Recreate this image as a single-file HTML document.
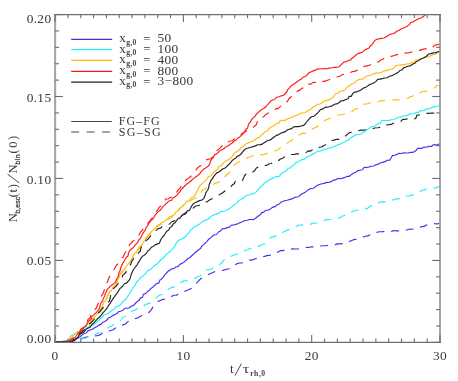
<!DOCTYPE html>
<html><head><meta charset="utf-8"><style>
html,body{margin:0;padding:0;background:#fff}
svg{display:block}
text{fill:#383838}
.num{font-family:"Liberation Serif",serif;font-size:12.4px;letter-spacing:0.3px}
.ser{font-family:"Liberation Serif",serif}
.sub{font-family:"Liberation Sans",sans-serif;font-size:7.2px;letter-spacing:0.3px;stroke:#383838;stroke-width:0.25px}
.subs{font-family:"Liberation Serif",serif;font-size:7.6px;letter-spacing:0.35px;font-weight:bold;fill:#444}
</style></head><body>
<svg width="458" height="381" viewBox="0 0 458 381">
<rect width="458" height="381" fill="#fff"/>
<clipPath id="c"><rect x="55.1" y="14.6" width="384.9" height="327.8"/></clipPath>
<g clip-path="url(#c)">
<polyline points="55.0,342.0 57.4,341.9 59.8,341.8 62.2,341.8 64.6,341.7 67.0,341.6 69.4,341.5 71.8,340.9 73.7,339.9 75.9,338.6 78.1,338.1 80.0,336.7 82.0,335.1 84.3,333.2 86.3,333.0 87.9,330.9 90.2,330.0 92.3,329.2 94.3,328.0 96.6,326.7 99.0,325.1 100.9,324.4 102.5,322.6 104.7,321.5 106.6,320.3 108.1,318.3 110.7,317.0 112.5,315.6 114.1,314.9 116.9,313.6 118.6,311.6 120.6,311.3 122.8,310.3 125.1,308.2 127.4,308.3 129.5,307.7 131.2,306.2 133.6,305.4 135.3,303.5 137.2,301.6 138.5,300.8 140.7,297.9 142.5,297.4 143.4,294.3 145.5,293.6 147.7,291.3 149.2,290.5 150.9,288.4 152.7,287.3 154.6,285.5 156.9,283.4 158.7,283.2 159.9,280.1 161.1,279.4 163.3,277.1 164.9,274.7 166.0,273.6 167.7,271.6 169.8,270.3 171.6,268.9 173.8,268.6 176.2,266.7 178.0,266.6 180.2,264.2 182.0,263.2 183.7,262.4 185.5,260.8 187.9,258.5 189.8,257.8 191.5,256.0 193.4,254.3 195.1,252.5 196.8,251.2 198.7,249.7 200.4,248.6 202.0,245.9 204.1,244.4 205.6,242.6 206.6,241.9 209.0,238.9 210.7,237.9 212.6,235.9 214.3,234.8 216.5,234.5 218.5,232.0 220.5,230.9 222.5,228.6 224.4,228.7 227.1,227.6 229.5,227.1 231.3,225.2 233.8,224.9 235.2,224.6 237.7,223.7 239.9,222.7 242.8,221.5 244.8,220.5 247.1,220.3 249.8,219.5 251.7,219.5 253.8,219.6 256.1,217.7 258.3,216.0 260.3,214.7 261.7,212.6 263.8,212.1 265.8,210.2 268.5,210.1 270.2,209.1 272.3,207.4 275.1,206.6 277.2,204.7 278.8,204.3 281.3,201.9 282.8,201.5 285.2,200.5 287.1,200.2 290.0,199.4 291.9,198.9 294.5,197.4 296.6,197.0 298.8,196.7 301.0,194.4 303.2,193.2 304.7,192.6 306.9,190.9 308.9,189.4 311.1,188.5 313.5,188.3 315.5,186.6 317.3,185.2 320.1,184.3 322.0,183.8 324.3,183.4 326.6,182.4 328.8,182.5 331.4,181.4 333.1,180.4 336.0,179.6 337.9,178.5 340.6,178.7 342.9,178.1 344.7,177.6 347.2,176.3 349.4,176.3 351.5,174.4 353.8,173.1 356.0,172.1 358.2,170.6 359.8,170.2 362.3,169.7 364.3,167.4 366.6,167.5 369.2,166.9 371.4,166.3 373.8,166.0 375.4,164.9 378.5,164.1 380.2,162.7 382.1,162.6 385.4,161.4 387.3,160.2 389.3,160.3 391.1,158.1 392.4,155.6 394.7,155.2 396.8,154.4 399.1,153.3 401.5,153.5 403.7,152.9 406.6,153.0 408.0,153.0 411.1,152.4 413.4,152.2 415.7,150.8 417.5,148.3 419.2,148.4 422.2,148.4 424.0,147.0 426.5,147.2 428.6,146.4 431.4,146.5 433.1,144.8 436.0,144.9 438.2,144.7 439.7,143.2" fill="none" stroke="#4a2cf0" stroke-width="1.15" stroke-linejoin="round"/>
<polyline points="55.0,342.0 57.4,341.9 59.8,341.9 62.2,341.8 64.6,341.7 67.0,341.6 69.4,341.6 71.9,341.4 73.7,339.8 76.1,339.4 78.1,338.3 80.6,338.4 83.0,338.3 85.4,337.3 87.4,336.8 89.9,336.0 92.3,336.0 94.7,335.9 96.8,335.7 99.6,335.1 101.4,334.0 103.4,333.0 105.9,331.3 108.4,331.3 110.0,330.8 113.1,329.8 114.4,328.7 116.8,327.2 118.8,326.6 121.2,326.1 123.4,324.6 125.5,324.0 127.0,322.4 129.4,320.6 131.7,319.6 134.0,319.2 136.6,318.1 138.1,317.7 140.9,316.1 142.6,314.8 144.6,314.3 146.8,312.5 149.3,312.2 150.6,310.7 152.0,308.7 153.1,306.4 154.8,304.4 156.4,302.6 158.1,301.6 160.2,300.5 163.0,299.4 165.1,299.0 166.9,297.7 169.6,297.7 171.5,296.5 173.6,295.3 176.6,295.2 178.7,293.5 180.5,293.6 182.9,291.7 184.9,291.2 187.4,290.3 189.5,289.2 191.6,288.2 193.1,285.5 194.7,284.0 196.8,282.8 198.2,281.4 200.3,279.1 202.1,278.0 204.0,276.8 206.4,276.0 208.3,274.6 210.0,273.7 212.9,272.5 215.2,271.4 217.1,271.2 219.7,270.7 222.3,270.5 224.3,269.9 226.8,269.2 229.1,268.7 230.9,267.2 233.2,266.3 235.4,264.7 237.4,263.6 239.5,263.0 241.8,263.0 244.1,261.7 245.9,261.2 248.9,260.0 251.7,260.1 253.8,259.2 256.0,258.6 258.0,257.8 260.0,257.1 262.4,256.9 265.5,256.1 267.4,255.4 269.7,255.5 272.1,254.2 274.5,254.0 276.8,252.2 278.4,252.0 280.6,250.6 282.8,250.6 285.3,249.9 287.9,249.0 290.1,249.2 292.8,248.9 295.0,249.0 297.6,249.0 300.3,248.5 302.3,248.5 304.5,248.0 307.3,247.3 309.0,247.5 311.3,246.8 313.9,246.9 316.3,246.4 318.5,246.1 320.8,246.0 323.6,245.7 325.9,245.8 328.4,245.2 331.1,245.3 333.1,245.3 335.3,244.6 337.7,243.9 340.3,243.9 343.0,243.6 344.9,242.6 346.7,242.7 349.5,241.2 351.8,240.6 354.0,239.6 356.4,239.2 358.3,237.9 360.7,238.0 363.3,237.0 365.6,236.2 367.7,235.9 369.8,234.9 372.1,233.2 374.2,233.1 376.8,232.4 379.2,231.7 381.3,231.8 383.8,231.6 386.3,231.8 388.4,231.8 391.0,231.5 393.7,230.6 395.3,230.8 398.1,230.8 400.7,230.8 402.9,230.4 405.2,230.5 407.3,229.7 410.1,229.0 412.5,229.2 415.3,228.7 416.9,227.9 419.5,227.9 421.4,226.6 424.1,226.4 426.3,225.1 428.7,224.7 430.9,224.2 433.5,223.6 435.6,223.8 437.9,223.8 440.0,223.0" fill="none" stroke="#4a2cf0" stroke-width="1.15" stroke-linejoin="round" stroke-dasharray="8.0 6.8" stroke-dashoffset="3"/>
<polyline points="55.0,342.0 57.4,341.8 59.8,341.5 62.2,341.3 64.5,341.0 66.9,340.8 69.3,340.5 69.9,338.3 70.5,336.2 71.8,335.5 74.3,334.3 76.5,332.9 78.7,332.1 80.2,330.9 82.9,330.2 85.1,328.6 86.8,327.5 88.7,326.8 91.3,325.4 93.5,325.1 95.1,323.3 97.5,321.7 99.5,319.7 100.7,318.2 102.8,317.0 103.8,314.8 106.5,314.2 109.0,312.9 110.4,311.4 112.4,310.3 114.0,309.3 115.4,307.0 118.1,306.1 120.6,304.7 121.9,302.8 123.6,301.0 125.6,299.3 126.8,297.6 128.3,295.5 129.4,293.7 130.6,291.8 132.3,289.0 133.0,287.6 134.6,285.9 136.2,282.7 137.3,281.5 138.8,279.8 140.8,277.4 142.3,276.4 144.1,274.9 145.8,273.4 147.1,271.5 149.5,269.7 151.1,268.9 153.4,266.7 155.1,265.1 156.7,264.4 158.3,262.6 160.2,260.5 162.2,258.8 163.5,258.1 165.6,255.2 167.3,253.4 168.9,252.4 170.4,250.9 172.2,249.4 174.1,247.1 175.5,245.1 176.2,243.1 177.8,241.2 179.6,239.8 181.7,239.3 184.4,237.2 185.2,237.2 187.3,234.4 188.9,233.0 190.0,230.6 192.1,229.0 193.6,227.2 195.4,226.4 197.8,225.0 199.7,223.9 201.8,222.1 203.8,221.1 206.2,219.9 208.5,219.2 210.0,217.1 212.7,215.2 214.2,214.7 216.1,214.1 218.6,213.2 220.9,211.4 222.6,211.5 225.3,210.7 227.6,209.6 229.5,208.7 231.4,207.1 233.2,205.7 235.8,203.9 237.2,202.6 238.9,200.4 241.1,199.4 243.0,198.2 245.2,196.7 246.8,195.2 249.2,195.0 251.4,193.9 254.0,193.2 255.6,192.4 257.5,190.7 259.2,188.2 260.5,186.7 262.5,185.4 264.1,183.3 266.6,181.8 268.2,180.5 270.1,179.1 271.4,179.2 274.4,177.2 276.3,176.5 278.8,176.6 281.1,174.0 283.1,172.5 284.7,171.5 286.6,170.8 288.1,168.3 290.6,167.9 292.6,165.6 294.4,164.8 296.1,162.2 298.3,162.1 299.6,160.8 302.4,159.4 304.2,159.4 306.6,157.1 308.7,156.5 310.7,155.6 312.9,154.1 315.0,153.0 317.6,151.2 319.5,151.2 322.1,150.4 324.1,149.2 326.6,149.1 328.2,148.0 331.1,147.9 333.3,146.7 335.5,146.1 337.7,144.9 340.0,144.1 342.5,143.0 344.7,141.9 346.5,140.5 348.4,140.1 350.4,137.9 352.0,137.1 354.5,135.6 356.7,134.7 359.2,134.5 361.4,133.8 363.4,132.3 365.3,131.0 367.0,129.7 369.4,128.3 371.5,126.8 373.6,126.4 375.1,126.0 377.5,123.9 380.6,123.1 382.0,120.3 384.1,120.5 386.0,120.5 389.0,120.4 391.1,119.7 393.5,119.5 395.9,118.8 398.3,117.2 400.7,117.3 402.8,116.0 405.0,115.7 407.8,115.4 409.2,113.9 412.4,114.0 414.5,113.5 416.5,112.3 418.7,112.3 421.0,110.5 424.0,110.7 425.6,109.4 427.8,108.9 430.2,108.5 432.9,106.9 435.0,106.6 437.2,106.3 439.4,105.9 439.7,105.5" fill="none" stroke="#22eefc" stroke-width="1.15" stroke-linejoin="round"/>
<polyline points="55.0,342.0 57.4,341.9 59.8,341.9 62.2,341.8 64.6,341.8 67.0,341.7 69.4,341.6 71.2,341.1 74.0,341.2 76.5,341.2 78.9,340.9 81.0,339.7 83.3,338.2 85.7,338.4 87.6,337.0 89.7,336.2 92.2,335.5 94.7,334.6 96.6,333.7 98.8,333.0 101.6,332.8 103.3,331.0 105.5,330.2 106.9,328.9 109.4,326.8 111.3,326.4 113.4,324.7 115.6,324.1 117.6,323.7 119.9,321.3 121.0,320.0 122.7,317.5 124.6,317.0 126.4,315.3 128.2,313.6 130.8,312.5 132.6,310.6 134.6,310.2 137.0,308.7 139.0,308.5 140.6,306.7 143.2,306.5 145.1,304.8 147.4,303.9 150.0,303.1 152.1,302.0 154.2,300.0 155.1,298.5 157.1,297.1 159.2,295.4 161.1,294.8 163.9,293.6 165.3,292.4 167.1,290.5 169.1,288.8 170.5,287.9 173.1,287.1 175.5,286.6 178.2,285.2 179.5,283.5 181.2,282.1 184.1,280.9 185.8,280.8 188.7,279.7 190.7,279.0 193.3,278.5 195.4,278.2 197.4,276.5 199.9,276.2 201.8,274.2 203.6,273.0 205.1,271.2 207.0,269.8 209.7,269.7 212.3,268.2 213.8,268.3 216.5,267.8 217.9,266.3 220.2,264.2 221.9,262.5 223.2,261.1 224.9,258.5 227.2,257.7 229.6,257.1 231.6,256.0 234.2,254.9 236.2,254.5 238.8,253.1 240.8,252.0 242.7,251.7 244.7,250.5 247.3,250.0 249.8,248.4 252.3,248.3 254.2,247.5 256.3,247.0 258.5,246.1 260.9,245.4 262.4,244.3 265.3,243.8 267.2,241.3 268.9,240.3 270.5,237.7 272.6,236.9 274.5,236.4 276.4,235.9 279.1,235.7 281.2,234.6 282.6,232.5 284.9,231.2 287.4,230.1 289.3,229.5 291.5,228.4 294.0,227.5 295.8,226.9 298.6,225.1 300.9,225.2 302.9,224.6 305.0,224.7 307.9,224.4 310.5,224.5 312.1,223.1 315.0,223.3 316.9,223.0 319.8,223.0 321.7,222.1 324.2,220.9 325.7,219.5 328.6,219.6 331.1,219.2 333.3,218.6 335.7,218.1 337.8,218.1 340.5,217.5 342.5,216.0 344.5,215.5 346.5,213.8 349.3,213.2 351.3,212.3 353.5,211.2 356.1,210.2 357.9,210.3 360.4,209.9 363.2,210.0 365.4,208.4 367.4,208.6 369.5,206.7 371.6,205.6 372.9,204.2 375.0,203.2 377.5,203.1 379.9,202.1 382.8,201.8 385.1,201.9 386.9,201.6 389.5,200.9 392.1,200.1 394.1,199.6 396.1,198.8 399.2,198.8 400.9,197.8 403.5,195.9 405.8,196.0 408.5,196.0 410.3,195.6 412.9,194.9 414.9,193.0 417.2,192.3 419.2,192.3 422.0,190.2 424.2,190.1 426.3,188.7 428.9,188.8 430.8,188.2 433.4,187.8 435.6,188.0 438.1,186.9 440.0,187.0" fill="none" stroke="#22eefc" stroke-width="1.15" stroke-linejoin="round" stroke-dasharray="8.0 6.8" stroke-dashoffset="3"/>
<polyline points="55.0,342.0 57.4,341.8 59.8,341.7 62.2,341.5 64.6,341.3 67.0,341.1 68.9,340.0 70.7,338.2 72.5,336.8 73.6,335.3 75.7,333.2 77.5,331.6 79.8,331.3 81.3,329.9 83.4,327.4 85.7,326.4 87.0,324.2 88.0,323.2 90.2,320.9 91.8,319.3 93.3,318.0 95.1,316.3 97.1,314.2 98.7,312.5 99.9,311.4 101.2,308.5 102.3,306.3 103.3,303.8 104.0,301.9 105.1,300.8 106.5,298.6 107.2,296.3 108.9,294.1 109.8,291.5 111.4,290.7 112.7,287.7 114.4,286.1 116.0,284.0 116.7,281.6 117.3,280.2 119.0,277.8 119.5,274.7 120.5,272.8 121.9,271.5 124.3,269.7 125.5,267.1 127.4,265.1 128.5,263.7 129.9,262.0 131.0,259.8 132.4,257.7 133.7,255.4 134.9,253.1 136.3,252.7 137.8,249.4 138.8,247.6 140.8,245.8 142.1,244.4 143.2,241.9 144.8,240.8 145.6,237.8 148.1,235.7 148.9,233.9 150.6,232.8 152.0,230.9 154.5,228.9 156.0,227.3 157.5,225.4 159.7,224.7 161.5,222.6 163.2,222.0 165.2,220.7 167.4,218.9 169.4,216.8 171.1,216.2 173.6,215.1 175.4,213.4 176.3,211.2 178.3,210.6 179.6,208.6 181.7,206.9 183.4,205.2 185.0,203.8 186.7,201.4 188.8,200.9 190.6,198.5 192.5,197.3 194.6,196.0 195.6,193.8 196.8,191.9 198.1,189.7 198.5,187.7 200.2,185.4 201.7,184.2 203.8,181.9 205.8,180.4 207.5,178.6 208.5,176.5 210.7,175.9 212.4,174.0 213.7,172.3 215.6,170.8 217.5,169.1 218.9,166.2 221.0,165.9 222.9,163.7 224.5,162.1 226.4,160.7 228.2,159.7 230.4,158.3 232.1,156.6 233.6,154.4 235.2,152.7 237.1,151.2 239.3,150.4 240.6,148.1 242.9,146.9 244.6,145.0 247.0,143.1 249.4,142.6 250.9,141.5 253.2,141.3 255.1,139.6 257.6,137.9 259.6,137.2 261.2,135.3 263.3,133.6 265.0,131.8 267.1,131.3 268.8,128.9 270.3,127.7 272.8,126.0 274.3,125.9 276.3,123.5 278.6,123.5 279.9,120.9 283.0,120.3 285.0,120.4 287.2,119.1 289.9,118.0 292.1,117.3 293.7,115.9 295.9,115.7 298.3,114.8 300.6,113.1 302.2,113.1 305.1,112.7 306.8,111.4 309.3,109.7 311.0,109.2 312.9,107.0 315.5,106.0 317.3,104.2 320.0,104.1 321.7,103.0 323.7,101.2 326.1,100.4 328.8,99.9 330.3,99.0 332.6,98.0 334.0,95.9 335.8,93.5 337.8,93.3 340.2,91.3 342.4,90.9 344.8,90.0 346.6,87.9 348.4,86.3 350.1,85.3 351.9,84.1 354.1,82.9 355.9,81.4 358.0,79.9 360.3,79.1 362.7,79.2 364.5,77.6 366.9,76.1 368.9,75.5 371.3,75.2 373.1,74.1 376.0,73.0 378.5,72.9 380.8,72.8 382.9,71.6 385.4,70.4 387.4,70.6 389.5,69.2 392.3,69.2 394.3,67.4 395.6,65.6 398.1,65.2 400.7,64.8 402.9,64.9 405.5,64.2 408.0,63.7 409.8,63.8 412.4,62.6 414.3,61.9 416.3,60.0 419.1,60.0 420.7,59.0 423.4,58.0 425.6,56.8 428.2,56.9 430.5,55.8 432.7,54.8 435.1,54.3 437.0,53.2 439.0,51.9 439.7,51.4" fill="none" stroke="#ffbb10" stroke-width="1.15" stroke-linejoin="round"/>
<polyline points="55.0,342.6 57.4,342.4 59.8,342.3 62.2,342.1 64.6,341.9 67.0,341.7 68.9,340.6 70.6,340.0 72.7,337.4 73.3,336.1 75.5,334.0 77.7,333.3 79.2,331.7 81.7,329.9 83.1,328.8 84.9,326.7 86.8,325.2 88.1,323.4 90.5,322.3 92.1,320.1 93.7,318.6 95.0,316.9 97.2,315.3 99.1,313.0 100.4,312.2 101.2,310.0 101.9,306.9 103.2,304.6 104.4,302.7 105.8,299.8 106.3,299.4 107.5,296.6 108.4,294.3 109.6,292.1 111.3,290.4 112.6,288.6 114.3,286.6 115.3,284.8 116.8,282.5 117.4,280.4 118.5,277.8 120.1,276.2 120.8,273.8 122.4,272.1 123.8,269.7 125.7,268.3 126.9,266.1 128.2,264.8 129.9,262.6 130.8,260.5 132.3,258.5 133.5,256.6 134.6,254.9 136.3,252.4 137.6,250.9 139.0,248.9 141.1,247.0 142.2,244.6 143.7,242.5 144.8,241.4 146.2,238.4 147.7,237.3 148.5,235.3 151.0,233.0 152.6,231.1 154.2,230.7 155.7,228.7 157.6,226.2 159.4,225.1 161.3,224.0 163.5,222.5 165.9,221.1 167.5,220.1 169.3,218.5 171.5,217.8 173.3,215.4 175.0,214.1 176.4,212.8 178.2,210.7 179.9,208.3 181.7,207.1 183.4,205.3 184.9,203.2 187.4,202.9 189.1,201.4 190.8,200.6 193.6,198.7 195.3,198.2 197.9,195.9 198.9,194.9 200.9,193.0 202.5,190.1 203.3,189.8 205.4,188.5 208.1,187.5 210.0,186.9 212.6,185.0 214.3,183.6 216.7,182.9 219.1,181.9 221.2,181.7 222.6,180.3 224.1,178.3 225.3,176.2 227.4,174.3 229.2,172.5 231.1,171.2 232.3,168.4 233.4,166.9 234.6,164.5 236.2,163.7 238.7,162.1 240.8,161.7 242.6,160.7 245.1,159.1 247.0,157.9 249.3,157.3 251.7,156.2 253.9,155.6 256.3,155.8 258.2,155.7 260.8,154.6 263.7,154.8 265.7,153.7 267.7,153.2 270.4,152.7 272.7,152.0 274.9,150.7 276.9,150.6 278.8,149.1 280.8,147.1 283.6,145.9 285.2,144.6 286.8,143.4 288.5,142.2 290.8,141.1 293.0,138.8 294.8,138.3 296.5,137.2 298.7,135.3 301.0,133.9 302.7,133.2 305.1,133.4 307.3,132.8 309.3,131.3 311.0,129.9 313.2,128.5 315.5,127.4 317.4,126.6 319.8,124.3 321.5,123.4 322.9,122.4 325.0,120.3 327.5,119.3 329.5,118.8 332.1,117.6 334.3,116.9 335.9,116.5 338.6,115.0 341.1,114.8 343.5,114.3 345.4,113.1 347.7,112.8 349.6,112.1 352.3,111.2 354.7,109.1 356.7,109.0 358.7,107.4 360.8,107.4 362.9,104.3 365.2,104.2 367.3,103.8 370.1,102.9 372.7,102.0 374.3,102.1 377.1,102.2 379.5,101.3 381.4,100.5 384.0,100.7 386.5,99.9 388.8,100.1 391.1,99.7 393.8,99.8 395.9,99.8 398.4,99.8 400.5,99.8 402.5,99.8 405.3,99.1 407.9,98.3 410.0,96.8 412.3,96.4 414.1,94.9 417.2,93.5 418.7,93.4 421.3,91.9 423.6,91.5 425.6,91.4 427.6,90.7 430.0,89.5 432.4,88.2 435.0,87.8 436.6,85.5 438.9,85.5 439.7,85.3" fill="none" stroke="#ffbb10" stroke-width="1.15" stroke-linejoin="round" stroke-dasharray="8.0 6.8" stroke-dashoffset="3"/>
<polyline points="55.0,342.0 57.4,341.8 59.8,341.7 62.2,341.5 64.6,341.3 67.0,341.1 69.4,340.8 71.5,340.0 73.2,338.5 75.4,337.3 77.0,334.7 78.4,333.2 80.4,332.1 81.8,330.3 83.2,328.2 85.0,326.5 86.6,325.2 87.6,322.2 89.3,320.3 90.9,319.7 92.0,316.1 94.0,314.6 95.5,313.3 96.7,312.2 99.0,309.3 99.6,307.8 100.3,304.6 101.6,302.2 102.7,301.0 103.2,298.7 104.7,296.2 105.2,293.5 106.2,292.1 107.0,289.7 108.3,288.4 110.3,286.4 112.2,284.8 114.0,283.4 115.5,282.1 116.6,279.2 117.8,277.5 118.6,275.2 118.9,272.7 120.0,270.9 120.6,268.5 121.4,266.2 122.7,263.2 123.5,261.9 125.2,259.3 126.5,256.9 128.0,255.9 128.5,253.2 129.5,251.1 130.8,249.4 132.5,248.3 134.5,245.9 136.0,244.2 137.5,242.7 138.8,240.0 140.5,238.4 141.6,236.0 142.5,234.1 143.7,232.1 145.1,230.4 146.1,227.6 147.2,226.3 148.7,223.6 150.0,222.0 151.5,220.0 153.1,218.7 154.5,216.2 155.4,215.0 156.8,213.1 159.0,211.1 160.7,209.8 162.2,207.4 164.3,205.4 165.6,204.1 167.3,202.7 169.3,200.8 171.7,200.3 172.8,198.0 175.1,196.8 177.0,195.1 178.6,193.0 180.0,191.7 181.4,189.3 182.8,188.0 184.7,186.0 186.8,183.9 188.5,182.9 189.9,181.7 192.2,179.8 193.6,178.6 195.7,176.9 197.8,175.6 199.8,173.7 201.0,171.9 202.7,170.1 204.3,168.7 206.7,167.2 208.4,166.1 209.6,164.3 210.4,161.6 211.7,159.1 213.1,157.9 214.4,154.9 216.2,154.1 218.1,152.5 219.7,150.8 222.3,149.6 223.9,148.8 225.9,146.7 228.1,146.0 230.2,144.2 232.2,143.0 233.6,141.5 236.0,140.1 237.6,138.0 239.3,137.3 241.7,135.1 243.1,133.9 244.8,131.3 245.7,129.2 247.6,128.2 248.2,125.4 248.9,123.7 250.6,121.7 251.7,119.2 253.2,117.9 255.2,116.1 256.5,113.9 258.5,112.2 260.1,110.7 261.9,109.4 263.7,108.5 265.7,106.8 267.2,105.1 269.1,103.2 270.7,100.9 272.7,100.0 274.7,99.5 276.6,97.2 279.0,96.7 281.5,95.8 283.5,95.4 285.2,93.5 287.0,91.5 287.5,89.8 289.7,87.6 290.8,86.1 293.3,84.4 295.0,83.3 297.4,81.5 299.5,80.0 301.2,79.2 303.0,77.3 304.7,76.7 306.6,75.7 308.8,72.8 310.8,72.0 312.8,70.9 315.0,70.4 317.7,68.8 319.9,69.0 322.3,68.7 324.6,68.6 326.6,68.8 329.1,68.1 332.1,67.7 334.1,67.3 336.8,67.3 338.5,67.0 340.3,65.7 342.2,63.6 343.8,62.1 346.3,61.6 348.6,60.4 350.2,60.1 351.7,58.5 354.0,56.8 356.0,55.0 357.9,53.6 360.7,52.6 362.4,52.2 364.4,50.3 367.1,48.8 368.8,48.3 370.1,46.1 372.0,44.9 373.6,42.2 375.1,40.3 376.9,39.2 379.3,38.9 381.3,38.4 384.1,38.0 386.2,36.7 388.3,35.4 390.5,34.1 392.9,33.7 394.9,32.9 396.8,31.2 399.1,30.2 401.4,28.7 403.4,28.0 405.3,27.2 407.2,26.3 409.3,24.6 411.0,22.4 413.0,22.0 415.1,20.5 417.3,19.4 419.7,18.3 421.7,17.8 423.9,16.0 425.4,14.6" fill="none" stroke="#ff1818" stroke-width="1.15" stroke-linejoin="round"/>
<polyline points="55.0,342.0 57.4,341.9 59.8,341.7 62.2,341.6 64.6,341.5 67.0,341.4 69.2,340.6 71.0,339.5 72.9,338.6 74.6,336.8 76.3,335.5 78.5,333.4 80.1,330.8 80.9,329.1 83.0,327.9 83.8,325.6 85.6,323.7 87.0,321.6 88.2,319.0 90.1,318.4 90.8,315.5 92.4,313.8 93.1,311.8 94.7,309.6 96.2,308.0 97.3,305.5 98.4,303.0 99.2,300.8 100.0,299.2 100.9,296.5 102.4,294.7 103.6,292.3 104.4,289.4 105.2,288.0 106.5,286.1 106.7,283.3 107.8,281.0 108.4,279.2 109.2,277.2 110.5,274.9 112.2,272.7 113.0,270.5 114.6,268.8 115.9,266.1 117.3,264.4 118.6,263.3 120.1,260.8 121.8,257.8 123.1,257.3 124.0,254.8 125.3,252.7 126.2,250.5 127.1,247.5 128.7,246.7 129.9,244.0 131.2,243.2 133.2,241.0 135.7,240.0 136.4,238.5 137.9,236.7 139.6,233.8 140.5,232.3 142.2,230.3 143.8,228.2 145.5,227.1 147.6,224.3 148.4,222.6 149.9,221.0 151.2,218.9 152.5,218.0 153.9,214.7 155.1,212.8 156.6,211.2 158.2,209.1 159.2,207.3 161.0,205.9 162.5,204.2 164.3,202.1 165.5,199.1 168.3,198.7 170.4,197.4 172.1,197.1 173.5,195.2 175.4,193.2 177.1,191.6 178.5,189.6 180.4,187.8 181.5,185.4 183.0,183.9 183.8,182.0 185.8,180.1 187.3,179.1 189.8,177.2 191.6,175.7 192.6,174.1 194.2,172.1 196.3,169.7 197.4,168.1 199.1,166.5 201.1,165.4 202.8,163.8 204.7,161.3 206.2,159.9 208.6,159.2 210.6,158.8 212.4,156.8 213.5,154.2 215.1,152.6 216.6,150.9 218.3,149.4 220.0,148.1 222.0,145.8 223.7,144.0 225.4,142.6 227.5,142.1 229.6,141.3 232.1,140.7 233.6,139.6 236.4,137.8 238.3,135.9 240.3,135.5 242.3,133.3 243.8,132.5 245.9,131.2 248.0,130.0 250.3,129.2 252.4,128.2 254.3,126.3 255.9,125.2 257.1,122.8 257.5,120.5 259.4,118.7 261.3,117.6 263.6,116.9 265.4,114.8 267.3,113.8 270.0,111.8 271.9,111.7 274.0,110.7 276.3,108.4 278.2,108.6 280.6,106.2 282.3,106.3 284.3,104.3 286.1,102.5 287.7,100.9 288.7,99.0 291.3,96.7 292.4,95.4 294.2,94.0 295.6,92.5 297.4,91.1 300.2,89.9 302.2,88.0 304.5,88.1 306.0,86.0 307.8,84.2 310.8,84.1 312.8,82.6 314.6,82.4 316.4,82.3 319.5,81.2 322.2,81.4 324.2,81.4 326.8,80.5 328.9,79.8 331.1,78.9 333.9,77.7 335.2,77.2 337.9,76.7 340.6,75.8 342.3,74.8 344.7,73.7 347.0,73.2 349.4,73.4 352.0,71.6 354.0,71.5 356.3,70.6 358.7,69.7 360.8,68.9 362.6,67.2 365.1,66.1 367.0,65.9 370.0,65.0 371.3,64.4 374.0,63.0 376.2,62.3 378.4,62.0 380.7,60.0 382.7,59.3 384.4,58.0 386.9,56.9 388.6,56.2 391.3,56.4 394.1,55.5 396.7,54.6 398.9,54.8 401.2,54.7 403.4,54.3 405.4,52.9 408.4,53.0 410.5,52.2 412.8,51.8 414.7,51.7 417.4,51.0 419.6,50.4 421.8,49.6 425.0,48.7 426.7,48.9 428.8,48.4 430.9,46.6 433.5,46.7 434.3,45.2 436.7,44.9 439.2,44.2 440.0,44.5" fill="none" stroke="#ff1818" stroke-width="1.15" stroke-linejoin="round" stroke-dasharray="8.0 6.8" stroke-dashoffset="3"/>
<polyline points="55.0,342.0 57.4,342.0 59.8,341.9 62.2,341.9 64.6,341.9 67.0,341.8 69.4,341.7 71.6,341.7 73.7,340.7 75.9,339.4 77.8,337.5 79.0,335.3 80.6,333.8 82.5,332.7 84.2,331.7 86.2,329.2 87.9,328.3 90.3,327.0 91.8,324.5 92.9,323.8 95.0,321.7 97.0,319.3 98.1,318.2 100.0,316.5 101.6,314.8 102.8,312.9 104.8,310.8 107.0,308.2 107.6,307.2 109.1,304.6 110.2,303.3 111.4,301.1 112.9,298.9 114.3,296.9 115.5,295.1 117.0,293.3 118.2,291.4 119.4,289.2 121.3,287.3 122.9,286.0 124.4,283.8 126.9,282.9 128.1,281.4 129.8,279.3 130.6,276.7 131.1,274.7 132.3,272.0 132.9,270.5 134.6,268.0 135.7,266.6 137.0,265.0 138.7,261.9 139.8,260.3 140.8,258.4 142.6,256.1 144.0,255.4 146.0,253.7 147.8,251.0 149.2,250.0 151.3,247.3 153.3,246.4 155.2,244.9 157.0,244.1 159.5,243.2 160.2,240.9 161.1,239.0 162.6,237.0 164.0,235.5 165.5,233.2 166.7,231.2 168.7,230.0 169.9,227.5 171.9,226.4 173.5,223.5 174.9,223.0 176.5,220.6 178.4,218.4 179.9,218.2 182.0,215.5 183.9,214.0 185.4,213.1 187.6,210.9 189.6,210.2 190.4,208.3 191.7,205.9 193.4,203.9 195.4,202.5 197.7,201.4 199.7,200.6 201.9,200.0 203.5,198.9 204.7,196.6 205.6,193.6 206.5,191.5 208.0,189.5 208.8,187.2 209.0,185.3 210.3,182.0 211.2,179.9 212.2,179.0 213.6,176.6 215.0,174.9 216.7,172.9 218.6,172.3 220.6,170.7 222.5,169.0 225.1,168.0 226.6,166.6 228.3,165.0 230.2,163.2 231.2,161.6 233.7,159.2 235.9,158.1 237.0,156.5 239.1,155.6 240.9,154.2 242.7,151.8 244.3,150.0 246.2,148.5 248.2,148.0 250.5,147.2 252.3,146.9 255.3,145.9 257.8,144.8 260.2,144.6 262.3,144.1 264.1,142.7 266.2,141.4 268.3,140.3 270.0,140.2 272.4,138.2 274.8,136.5 276.4,135.4 278.8,134.6 281.2,133.0 283.2,132.4 285.3,131.6 287.6,129.8 289.2,129.3 291.6,128.6 293.6,126.9 296.8,126.6 298.6,126.6 301.2,126.0 303.6,125.4 305.2,124.0 306.6,122.0 308.2,120.1 309.9,118.0 311.7,116.8 313.8,116.2 315.8,114.6 317.7,113.0 319.4,110.8 321.0,109.4 323.5,108.6 325.7,107.1 327.4,107.3 330.1,106.5 332.2,105.9 334.4,104.2 336.7,103.9 338.9,102.7 340.8,101.0 343.3,100.6 345.4,99.7 348.0,98.7 349.3,96.3 351.2,96.4 353.0,93.2 354.8,92.1 357.5,91.6 359.4,90.7 361.4,89.8 363.5,88.0 365.6,87.4 367.7,85.9 369.7,84.6 371.9,83.8 374.3,82.6 376.0,81.4 377.7,79.4 380.0,79.1 382.2,78.6 384.8,78.0 387.1,77.7 389.5,76.3 392.1,75.6 393.8,74.7 396.1,73.6 398.1,72.3 400.4,70.2 401.7,70.0 403.8,67.6 405.4,67.3 407.9,66.3 410.8,65.6 412.1,64.5 414.7,63.3 416.6,61.3 418.4,60.8 420.5,59.1 422.2,58.5 424.7,57.5 426.6,56.0 428.8,54.0 430.7,53.6 433.3,52.9 435.7,52.6 438.0,51.7 439.7,50.9" fill="none" stroke="#222222" stroke-width="1.15" stroke-linejoin="round"/>
<polyline points="55.0,342.0 57.4,341.9 59.8,341.8 62.2,341.8 64.6,341.7 67.0,341.6 69.4,341.5 71.5,341.6 74.1,339.6 75.9,338.5 77.5,336.5 79.2,334.2 80.5,333.1 82.8,331.1 83.9,330.2 85.8,329.1 87.7,326.5 88.8,324.4 91.1,322.7 92.0,321.6 93.9,319.8 95.4,317.6 96.6,315.7 98.1,313.2 99.8,311.5 101.7,309.4 102.8,307.9 104.7,306.8 106.0,304.6 107.4,302.5 109.3,301.3 109.8,299.3 110.5,296.4 110.9,294.3 112.5,291.9 112.9,289.1 114.8,287.4 116.0,286.4 117.5,284.3 118.9,282.2 120.3,280.1 122.0,278.4 122.7,275.1 124.3,274.0 125.7,272.5 126.8,270.5 128.7,267.5 129.2,266.5 130.7,264.4 132.0,260.9 133.3,259.4 134.0,257.4 135.6,255.2 137.2,254.6 139.6,251.7 140.3,251.1 140.9,248.0 142.4,245.4 143.3,244.5 144.9,242.1 146.6,240.1 147.9,239.3 149.9,236.9 151.2,234.7 153.2,232.6 154.5,231.2 156.5,230.1 158.6,228.4 160.6,228.1 162.3,226.4 165.4,224.7 166.9,224.6 169.7,224.0 171.3,222.0 173.2,221.4 175.7,220.3 177.3,218.8 179.3,217.3 181.5,215.9 183.6,214.4 185.1,214.1 187.4,211.8 189.2,210.6 191.5,208.9 193.3,208.0 195.4,206.1 197.4,205.8 200.2,204.9 202.1,203.0 203.8,202.4 206.5,201.9 208.3,200.9 210.6,199.2 212.6,198.7 215.4,197.0 217.0,196.0 218.9,194.9 221.0,193.8 222.7,192.7 225.5,190.5 227.2,189.8 229.2,189.0 230.6,187.1 232.8,184.6 234.3,183.8 235.3,181.1 237.7,180.6 240.1,180.8 242.3,180.7 243.7,177.7 244.4,175.9 246.2,174.0 247.8,172.3 249.7,171.8 252.7,172.0 254.6,170.8 256.3,168.1 257.9,167.2 260.5,166.1 263.2,165.9 264.6,165.7 267.6,165.0 269.2,163.7 271.4,163.5 273.4,161.8 275.7,160.5 278.7,160.5 280.3,159.0 282.9,158.2 284.7,156.6 287.4,156.3 289.6,155.7 291.2,154.5 293.9,154.5 296.4,153.9 298.7,153.8 301.2,153.8 303.7,152.9 306.0,152.6 308.1,150.9 310.6,151.1 312.7,149.8 314.6,148.2 317.2,147.4 319.7,147.3 322.1,146.8 323.4,145.7 325.7,144.7 327.5,143.0 329.6,141.3 331.6,140.5 334.1,140.1 336.5,139.3 339.3,139.3 341.1,139.2 343.2,137.8 345.2,136.2 347.2,134.4 349.3,132.7 351.1,132.3 353.8,131.4 356.0,130.6 358.7,130.7 360.7,130.0 363.4,130.1 365.6,129.8 367.7,128.7 370.1,128.9 372.4,128.9 374.5,128.0 377.3,127.8 379.5,127.5 381.3,125.7 384.1,124.8 386.6,124.9 388.7,124.8 391.1,124.4 393.8,123.0 395.4,122.9 398.0,122.2 400.6,121.7 402.7,119.4 404.6,119.5 407.3,118.9 409.7,119.1 411.9,118.9 414.5,119.0 416.0,118.0 416.9,115.1 419.6,115.0 421.7,114.0 423.9,113.9 426.7,113.3 429.4,113.3 431.5,113.0 433.5,113.1 436.3,112.6 438.5,112.8 440.0,112.3" fill="none" stroke="#222222" stroke-width="1.15" stroke-linejoin="round" stroke-dasharray="8.0 6.8" stroke-dashoffset="3"/>
</g>
<line x1="55.1" y1="14.05" x2="55.1" y2="342.9" stroke="#a6a6a6" stroke-width="2.1"/>
<line x1="440.0" y1="14.05" x2="440.0" y2="342.9" stroke="#a6a6a6" stroke-width="2.0"/>
<line x1="54.1" y1="14.55" x2="441.0" y2="14.55" stroke="#707070" stroke-width="1.15"/>
<line x1="54.1" y1="342.4" x2="441.0" y2="342.4" stroke="#707070" stroke-width="1.15"/>
<line x1="55.10" y1="342.4" x2="55.10" y2="334.9" stroke="#6c6c6c" stroke-width="1.1"/>
<line x1="55.10" y1="14.55" x2="55.10" y2="22.05" stroke="#6c6c6c" stroke-width="1.1"/>
<line x1="67.93" y1="342.4" x2="67.93" y2="338.59999999999997" stroke="#6c6c6c" stroke-width="1.1"/>
<line x1="67.93" y1="14.55" x2="67.93" y2="18.35" stroke="#6c6c6c" stroke-width="1.1"/>
<line x1="80.76" y1="342.4" x2="80.76" y2="338.59999999999997" stroke="#6c6c6c" stroke-width="1.1"/>
<line x1="80.76" y1="14.55" x2="80.76" y2="18.35" stroke="#6c6c6c" stroke-width="1.1"/>
<line x1="93.59" y1="342.4" x2="93.59" y2="338.59999999999997" stroke="#6c6c6c" stroke-width="1.1"/>
<line x1="93.59" y1="14.55" x2="93.59" y2="18.35" stroke="#6c6c6c" stroke-width="1.1"/>
<line x1="106.42" y1="342.4" x2="106.42" y2="338.59999999999997" stroke="#6c6c6c" stroke-width="1.1"/>
<line x1="106.42" y1="14.55" x2="106.42" y2="18.35" stroke="#6c6c6c" stroke-width="1.1"/>
<line x1="119.25" y1="342.4" x2="119.25" y2="338.59999999999997" stroke="#6c6c6c" stroke-width="1.1"/>
<line x1="119.25" y1="14.55" x2="119.25" y2="18.35" stroke="#6c6c6c" stroke-width="1.1"/>
<line x1="132.08" y1="342.4" x2="132.08" y2="338.59999999999997" stroke="#6c6c6c" stroke-width="1.1"/>
<line x1="132.08" y1="14.55" x2="132.08" y2="18.35" stroke="#6c6c6c" stroke-width="1.1"/>
<line x1="144.91" y1="342.4" x2="144.91" y2="338.59999999999997" stroke="#6c6c6c" stroke-width="1.1"/>
<line x1="144.91" y1="14.55" x2="144.91" y2="18.35" stroke="#6c6c6c" stroke-width="1.1"/>
<line x1="157.74" y1="342.4" x2="157.74" y2="338.59999999999997" stroke="#6c6c6c" stroke-width="1.1"/>
<line x1="157.74" y1="14.55" x2="157.74" y2="18.35" stroke="#6c6c6c" stroke-width="1.1"/>
<line x1="170.57" y1="342.4" x2="170.57" y2="338.59999999999997" stroke="#6c6c6c" stroke-width="1.1"/>
<line x1="170.57" y1="14.55" x2="170.57" y2="18.35" stroke="#6c6c6c" stroke-width="1.1"/>
<line x1="183.40" y1="342.4" x2="183.40" y2="334.9" stroke="#6c6c6c" stroke-width="1.1"/>
<line x1="183.40" y1="14.55" x2="183.40" y2="22.05" stroke="#6c6c6c" stroke-width="1.1"/>
<line x1="196.23" y1="342.4" x2="196.23" y2="338.59999999999997" stroke="#6c6c6c" stroke-width="1.1"/>
<line x1="196.23" y1="14.55" x2="196.23" y2="18.35" stroke="#6c6c6c" stroke-width="1.1"/>
<line x1="209.06" y1="342.4" x2="209.06" y2="338.59999999999997" stroke="#6c6c6c" stroke-width="1.1"/>
<line x1="209.06" y1="14.55" x2="209.06" y2="18.35" stroke="#6c6c6c" stroke-width="1.1"/>
<line x1="221.89" y1="342.4" x2="221.89" y2="338.59999999999997" stroke="#6c6c6c" stroke-width="1.1"/>
<line x1="221.89" y1="14.55" x2="221.89" y2="18.35" stroke="#6c6c6c" stroke-width="1.1"/>
<line x1="234.72" y1="342.4" x2="234.72" y2="338.59999999999997" stroke="#6c6c6c" stroke-width="1.1"/>
<line x1="234.72" y1="14.55" x2="234.72" y2="18.35" stroke="#6c6c6c" stroke-width="1.1"/>
<line x1="247.55" y1="342.4" x2="247.55" y2="338.59999999999997" stroke="#6c6c6c" stroke-width="1.1"/>
<line x1="247.55" y1="14.55" x2="247.55" y2="18.35" stroke="#6c6c6c" stroke-width="1.1"/>
<line x1="260.38" y1="342.4" x2="260.38" y2="338.59999999999997" stroke="#6c6c6c" stroke-width="1.1"/>
<line x1="260.38" y1="14.55" x2="260.38" y2="18.35" stroke="#6c6c6c" stroke-width="1.1"/>
<line x1="273.21" y1="342.4" x2="273.21" y2="338.59999999999997" stroke="#6c6c6c" stroke-width="1.1"/>
<line x1="273.21" y1="14.55" x2="273.21" y2="18.35" stroke="#6c6c6c" stroke-width="1.1"/>
<line x1="286.04" y1="342.4" x2="286.04" y2="338.59999999999997" stroke="#6c6c6c" stroke-width="1.1"/>
<line x1="286.04" y1="14.55" x2="286.04" y2="18.35" stroke="#6c6c6c" stroke-width="1.1"/>
<line x1="298.87" y1="342.4" x2="298.87" y2="338.59999999999997" stroke="#6c6c6c" stroke-width="1.1"/>
<line x1="298.87" y1="14.55" x2="298.87" y2="18.35" stroke="#6c6c6c" stroke-width="1.1"/>
<line x1="311.70" y1="342.4" x2="311.70" y2="334.9" stroke="#6c6c6c" stroke-width="1.1"/>
<line x1="311.70" y1="14.55" x2="311.70" y2="22.05" stroke="#6c6c6c" stroke-width="1.1"/>
<line x1="324.53" y1="342.4" x2="324.53" y2="338.59999999999997" stroke="#6c6c6c" stroke-width="1.1"/>
<line x1="324.53" y1="14.55" x2="324.53" y2="18.35" stroke="#6c6c6c" stroke-width="1.1"/>
<line x1="337.36" y1="342.4" x2="337.36" y2="338.59999999999997" stroke="#6c6c6c" stroke-width="1.1"/>
<line x1="337.36" y1="14.55" x2="337.36" y2="18.35" stroke="#6c6c6c" stroke-width="1.1"/>
<line x1="350.19" y1="342.4" x2="350.19" y2="338.59999999999997" stroke="#6c6c6c" stroke-width="1.1"/>
<line x1="350.19" y1="14.55" x2="350.19" y2="18.35" stroke="#6c6c6c" stroke-width="1.1"/>
<line x1="363.02" y1="342.4" x2="363.02" y2="338.59999999999997" stroke="#6c6c6c" stroke-width="1.1"/>
<line x1="363.02" y1="14.55" x2="363.02" y2="18.35" stroke="#6c6c6c" stroke-width="1.1"/>
<line x1="375.85" y1="342.4" x2="375.85" y2="338.59999999999997" stroke="#6c6c6c" stroke-width="1.1"/>
<line x1="375.85" y1="14.55" x2="375.85" y2="18.35" stroke="#6c6c6c" stroke-width="1.1"/>
<line x1="388.68" y1="342.4" x2="388.68" y2="338.59999999999997" stroke="#6c6c6c" stroke-width="1.1"/>
<line x1="388.68" y1="14.55" x2="388.68" y2="18.35" stroke="#6c6c6c" stroke-width="1.1"/>
<line x1="401.51" y1="342.4" x2="401.51" y2="338.59999999999997" stroke="#6c6c6c" stroke-width="1.1"/>
<line x1="401.51" y1="14.55" x2="401.51" y2="18.35" stroke="#6c6c6c" stroke-width="1.1"/>
<line x1="414.34" y1="342.4" x2="414.34" y2="338.59999999999997" stroke="#6c6c6c" stroke-width="1.1"/>
<line x1="414.34" y1="14.55" x2="414.34" y2="18.35" stroke="#6c6c6c" stroke-width="1.1"/>
<line x1="427.17" y1="342.4" x2="427.17" y2="338.59999999999997" stroke="#6c6c6c" stroke-width="1.1"/>
<line x1="427.17" y1="14.55" x2="427.17" y2="18.35" stroke="#6c6c6c" stroke-width="1.1"/>
<line x1="440.00" y1="342.4" x2="440.00" y2="334.9" stroke="#6c6c6c" stroke-width="1.1"/>
<line x1="440.00" y1="14.55" x2="440.00" y2="22.05" stroke="#6c6c6c" stroke-width="1.1"/>
<line x1="55.1" y1="342.40" x2="62.9" y2="342.40" stroke="#6c6c6c" stroke-width="1.1"/>
<line x1="440.0" y1="342.40" x2="432.2" y2="342.40" stroke="#6c6c6c" stroke-width="1.1"/>
<line x1="55.1" y1="326.01" x2="59.0" y2="326.01" stroke="#6c6c6c" stroke-width="1.1"/>
<line x1="440.0" y1="326.01" x2="436.1" y2="326.01" stroke="#6c6c6c" stroke-width="1.1"/>
<line x1="55.1" y1="309.62" x2="59.0" y2="309.62" stroke="#6c6c6c" stroke-width="1.1"/>
<line x1="440.0" y1="309.62" x2="436.1" y2="309.62" stroke="#6c6c6c" stroke-width="1.1"/>
<line x1="55.1" y1="293.22" x2="59.0" y2="293.22" stroke="#6c6c6c" stroke-width="1.1"/>
<line x1="440.0" y1="293.22" x2="436.1" y2="293.22" stroke="#6c6c6c" stroke-width="1.1"/>
<line x1="55.1" y1="276.83" x2="59.0" y2="276.83" stroke="#6c6c6c" stroke-width="1.1"/>
<line x1="440.0" y1="276.83" x2="436.1" y2="276.83" stroke="#6c6c6c" stroke-width="1.1"/>
<line x1="55.1" y1="260.44" x2="62.9" y2="260.44" stroke="#6c6c6c" stroke-width="1.1"/>
<line x1="440.0" y1="260.44" x2="432.2" y2="260.44" stroke="#6c6c6c" stroke-width="1.1"/>
<line x1="55.1" y1="244.04" x2="59.0" y2="244.04" stroke="#6c6c6c" stroke-width="1.1"/>
<line x1="440.0" y1="244.04" x2="436.1" y2="244.04" stroke="#6c6c6c" stroke-width="1.1"/>
<line x1="55.1" y1="227.65" x2="59.0" y2="227.65" stroke="#6c6c6c" stroke-width="1.1"/>
<line x1="440.0" y1="227.65" x2="436.1" y2="227.65" stroke="#6c6c6c" stroke-width="1.1"/>
<line x1="55.1" y1="211.26" x2="59.0" y2="211.26" stroke="#6c6c6c" stroke-width="1.1"/>
<line x1="440.0" y1="211.26" x2="436.1" y2="211.26" stroke="#6c6c6c" stroke-width="1.1"/>
<line x1="55.1" y1="194.87" x2="59.0" y2="194.87" stroke="#6c6c6c" stroke-width="1.1"/>
<line x1="440.0" y1="194.87" x2="436.1" y2="194.87" stroke="#6c6c6c" stroke-width="1.1"/>
<line x1="55.1" y1="178.47" x2="62.9" y2="178.47" stroke="#6c6c6c" stroke-width="1.1"/>
<line x1="440.0" y1="178.47" x2="432.2" y2="178.47" stroke="#6c6c6c" stroke-width="1.1"/>
<line x1="55.1" y1="162.08" x2="59.0" y2="162.08" stroke="#6c6c6c" stroke-width="1.1"/>
<line x1="440.0" y1="162.08" x2="436.1" y2="162.08" stroke="#6c6c6c" stroke-width="1.1"/>
<line x1="55.1" y1="145.69" x2="59.0" y2="145.69" stroke="#6c6c6c" stroke-width="1.1"/>
<line x1="440.0" y1="145.69" x2="436.1" y2="145.69" stroke="#6c6c6c" stroke-width="1.1"/>
<line x1="55.1" y1="129.30" x2="59.0" y2="129.30" stroke="#6c6c6c" stroke-width="1.1"/>
<line x1="440.0" y1="129.30" x2="436.1" y2="129.30" stroke="#6c6c6c" stroke-width="1.1"/>
<line x1="55.1" y1="112.91" x2="59.0" y2="112.91" stroke="#6c6c6c" stroke-width="1.1"/>
<line x1="440.0" y1="112.91" x2="436.1" y2="112.91" stroke="#6c6c6c" stroke-width="1.1"/>
<line x1="55.1" y1="96.51" x2="62.9" y2="96.51" stroke="#6c6c6c" stroke-width="1.1"/>
<line x1="440.0" y1="96.51" x2="432.2" y2="96.51" stroke="#6c6c6c" stroke-width="1.1"/>
<line x1="55.1" y1="80.12" x2="59.0" y2="80.12" stroke="#6c6c6c" stroke-width="1.1"/>
<line x1="440.0" y1="80.12" x2="436.1" y2="80.12" stroke="#6c6c6c" stroke-width="1.1"/>
<line x1="55.1" y1="63.73" x2="59.0" y2="63.73" stroke="#6c6c6c" stroke-width="1.1"/>
<line x1="440.0" y1="63.73" x2="436.1" y2="63.73" stroke="#6c6c6c" stroke-width="1.1"/>
<line x1="55.1" y1="47.34" x2="59.0" y2="47.34" stroke="#6c6c6c" stroke-width="1.1"/>
<line x1="440.0" y1="47.34" x2="436.1" y2="47.34" stroke="#6c6c6c" stroke-width="1.1"/>
<line x1="55.1" y1="30.94" x2="59.0" y2="30.94" stroke="#6c6c6c" stroke-width="1.1"/>
<line x1="440.0" y1="30.94" x2="436.1" y2="30.94" stroke="#6c6c6c" stroke-width="1.1"/>
<line x1="55.1" y1="14.55" x2="62.9" y2="14.55" stroke="#6c6c6c" stroke-width="1.1"/>
<line x1="440.0" y1="14.55" x2="432.2" y2="14.55" stroke="#6c6c6c" stroke-width="1.1"/>
<line x1="71.2" y1="39.3" x2="112.2" y2="39.3" stroke="#4a2cf0" stroke-width="1.3"/>
<line x1="71.2" y1="49.7" x2="112.2" y2="49.7" stroke="#22eefc" stroke-width="1.3"/>
<line x1="71.2" y1="60.4" x2="112.2" y2="60.4" stroke="#ffbb10" stroke-width="1.3"/>
<line x1="71.2" y1="71.4" x2="112.2" y2="71.4" stroke="#ff1818" stroke-width="1.3"/>
<line x1="71.2" y1="82.05" x2="112.2" y2="82.05" stroke="#222222" stroke-width="1.3"/>
<g style="filter:grayscale(1)">
<text transform="translate(51.4,22.9) scale(1.08,1)" text-anchor="end" class="num">0.20</text>
<text transform="translate(51.4,101.6) scale(1.08,1)" text-anchor="end" class="num">0.15</text>
<text transform="translate(51.4,183.5) scale(1.08,1)" text-anchor="end" class="num">0.10</text>
<text transform="translate(51.4,265.4) scale(1.08,1)" text-anchor="end" class="num">0.05</text>
<text transform="translate(51.4,343.4) scale(1.08,1)" text-anchor="end" class="num">0.00</text>
<text transform="translate(55.1,359.6) scale(1.08,1)" text-anchor="middle" class="num">0</text>
<text transform="translate(183.4,359.6) scale(1.08,1)" text-anchor="middle" class="num">10</text>
<text transform="translate(311.7,359.6) scale(1.08,1)" text-anchor="middle" class="num">20</text>
<text transform="translate(440.0,359.6) scale(1.08,1)" text-anchor="middle" class="num">30</text>
<text x="119.2" y="42.3" class="ser" style="font-size:13px">x</text>
<text x="126.2" y="44.6" class="subs">g,0</text>
<text x="143.2" y="42.7" class="ser" style="font-size:12px" textLength="7.2" lengthAdjust="spacingAndGlyphs">=</text>
<text transform="translate(157.6,42.4) scale(1.08,1)" class="num">50</text>
<text x="119.2" y="52.7" class="ser" style="font-size:13px">x</text>
<text x="126.2" y="55.0" class="subs">g,0</text>
<text x="143.2" y="53.1" class="ser" style="font-size:12px" textLength="7.2" lengthAdjust="spacingAndGlyphs">=</text>
<text transform="translate(157.6,52.8) scale(1.08,1)" class="num">100</text>
<text x="119.2" y="63.4" class="ser" style="font-size:13px">x</text>
<text x="126.2" y="65.7" class="subs">g,0</text>
<text x="143.2" y="63.8" class="ser" style="font-size:12px" textLength="7.2" lengthAdjust="spacingAndGlyphs">=</text>
<text transform="translate(157.6,63.5) scale(1.08,1)" class="num">400</text>
<text x="119.2" y="74.4" class="ser" style="font-size:13px">x</text>
<text x="126.2" y="76.7" class="subs">g,0</text>
<text x="143.2" y="74.8" class="ser" style="font-size:12px" textLength="7.2" lengthAdjust="spacingAndGlyphs">=</text>
<text transform="translate(157.6,74.5) scale(1.08,1)" class="num">800</text>
<text x="119.2" y="85.0" class="ser" style="font-size:13px">x</text>
<text x="126.2" y="87.3" class="subs">g,0</text>
<text x="143.2" y="85.5" class="ser" style="font-size:12px" textLength="7.2" lengthAdjust="spacingAndGlyphs">=</text>
<text transform="translate(157.6,85.2) scale(1.08,1)" class="num">3−800</text>
<line x1="71.2" y1="121.45" x2="111.8" y2="121.45" stroke="#484848" stroke-width="1.05"/>
<line x1="71.2" y1="131.95" x2="111.8" y2="131.95" stroke="#a4a4a4" stroke-width="2" stroke-dasharray="7.9 7.55"/>
<text x="118.8" y="125.2" class="ser" style="font-size:12px;letter-spacing:1.05px">FG–FG</text>
<text x="118.8" y="135.7" class="ser" style="font-size:12px;letter-spacing:1.3px">SG–SG</text>
<text x="230" y="373.2" class="ser" style="font-size:13px">t</text>
<line x1="235" y1="375.6" x2="241.4" y2="363.6" stroke="#383838" stroke-width="0.9"/>
<text transform="translate(242.8,373.2) scale(1.3,1)" class="ser" style="font-size:12.5px">τ</text>
<text x="250.2" y="376.2" class="subs" style="letter-spacing:0.55px">rh,0</text>
<text transform="translate(16.8,222.2) rotate(-90)" class="ser" style="font-size:12.5px">N</text>
<text transform="translate(19.7,213.6) rotate(-90)" class="sub" style="font-size:7px;letter-spacing:0px">b,esc</text>
<text transform="translate(16.8,197.2) rotate(-90)" class="ser" style="font-size:12.5px;letter-spacing:0.6px">(t)</text>
<line x1="19.4" y1="183" x2="7.6" y2="174.2" stroke="#383838" stroke-width="0.9"/>
<text transform="translate(16.8,173.4) rotate(-90)" class="ser" style="font-size:12.5px">N</text>
<text transform="translate(19.7,164.6) rotate(-90)" class="sub" style="font-size:7px;letter-spacing:0.5px">bin</text>
<text transform="translate(16.8,153.4) rotate(-90)" class="ser" style="font-size:12.5px;letter-spacing:1.5px">(0)</text>
</g>
</svg>
</body></html>
